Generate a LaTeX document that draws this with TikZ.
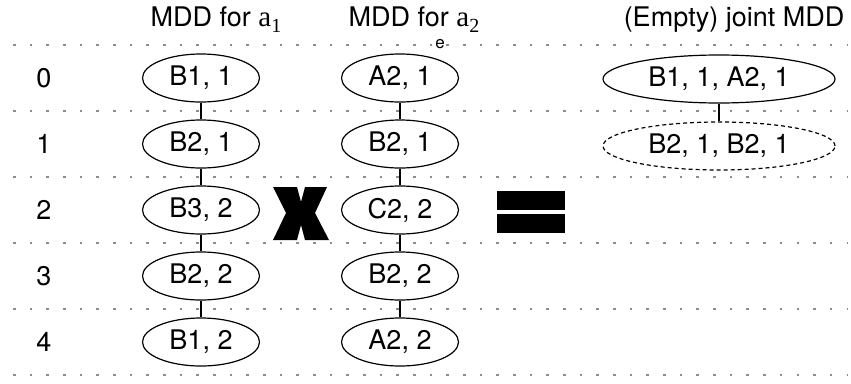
\documentclass[tikz,border=0pt]{standalone}
\usepackage{fontspec}
\setmainfont{TeX Gyre Heros}
\newfontfamily\agentfont{Liberation Serif}
\usetikzlibrary{shapes.geometric}
% agent name with a lowered serif index
\newcommand{\agentname}[1]{{\agentfont\fontsize{29}{32}\selectfont a\raisebox{-6pt}{\fontsize{20}{22}\selectfont #1}}}
\begin{document}
\begin{tikzpicture}[x=1pt,y=-1pt,
  every node/.style={font=\fontsize{27}{32}\selectfont},
  state/.style={ellipse, draw, line width=1.2pt, minimum width=117pt, minimum height=48pt, inner sep=0pt},
  joint/.style={state, minimum width=232pt, minimum height=48pt},
  link/.style={line width=1.2pt},
  guide/.style={black!45, line width=2.6pt, dash pattern=on 2.6pt off 14.07pt},
]
\useasboundingbox (0,0) rectangle (851,383);

% level separators
\foreach \y in {45,111,177,243,309,375}
  \draw[guide] (13,\y) -- (848,\y);

% column headings
\node[anchor=base] (h1) at (216,26) {MDD for \agentname{1}};
\node[anchor=base] (h2) at (414,26) {MDD for \agentname{2}};
\node[anchor=base] (h3) at (734,26) {(Empty) joint MDD};
\node[font=\fontsize{17}{20}\selectfont] (e) at (440,44) {e};

% level numbers
\foreach \i/\y in {0/78,1/144,2/210,3/276,4/342}
  \node (r\i) at (44,\y) {\i};

% MDD for a1
\node[state] (a0) at (201,78)  {B1, 1};
\node[state] (a1) at (201,144) {B2, 1};
\node[state] (a2) at (201,210) {B3, 2};
\node[state] (a3) at (201,276) {B2, 2};
\node[state] (a4) at (201,342) {B1, 2};

% MDD for a2
\node[state] (b0) at (400,78)  {A2, 1};
\node[state] (b1) at (400,144) {B2, 1};
\node[state] (b2) at (400,210) {C2, 2};
\node[state] (b3) at (400,276) {B2, 2};
\node[state] (b4) at (400,342) {A2, 2};

\foreach \s in {a,b}{
  \draw[link] (\s0) -- (\s1);
  \draw[link] (\s1) -- (\s2);
  \draw[link] (\s2) -- (\s3);
  \draw[link] (\s3) -- (\s4);
}

% joint MDD
\node[joint] (j0) at (719,79) {B1, 1, A2, 1};
\node[joint, dash pattern=on 4pt off 3pt] (j1) at (719,146) {B2, 1, B2, 1};
\draw[link] (j0) -- (j1);

% product sign
\fill (273,187) -- (297,187) -- (301,202) -- (305,187) -- (327,187)
  -- (315,213) -- (329,240) -- (305,240) -- (301,225) -- (297,240)
  -- (273,240) -- (286,213) -- cycle;

% equals sign
\fill (497,191) rectangle (565,209.5);
\fill (497,214) rectangle (565,232.5);
\end{tikzpicture}
\end{document}
